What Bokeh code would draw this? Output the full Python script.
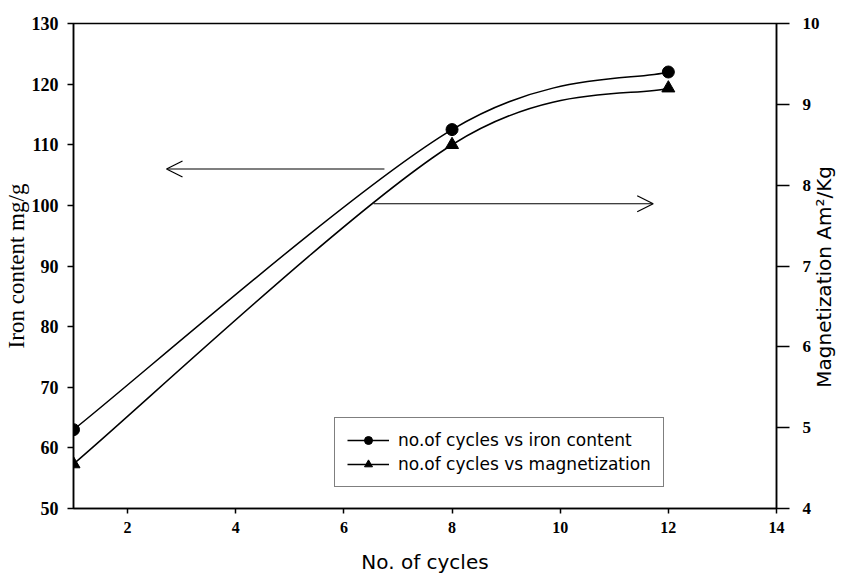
import math

from bokeh.embed import file_html
from bokeh.models import (Arrow, FixedTicker, Legend, LegendItem,
                          LinearAxis, OpenHead, Range1d)
from bokeh.plotting import figure
from bokeh.resources import INLINE

# Measured series
cycles = [1, 8, 12]
iron_content = [63.0, 112.5, 122.0]      # mg/g, left axis
magnetization = [4.55, 8.5, 9.2]         # Am^2/Kg, right axis

# Axis ticks
x_ticks = [2, 4, 6, 8, 10, 12, 14]
left_ticks = [50, 60, 70, 80, 90, 100, 110, 120, 130]
right_ticks = [4, 5, 6, 7, 8, 9, 10]

# Annotation arrows pointing to the axis each curve belongs to
left_arrow = dict(x_start=6.75, x_end=2.72, y=106.0)
right_arrow = dict(x_start=6.55, x_end=11.72, y=7.77)

SERIF = "Liberation Serif"
SANS = "DejaVu Sans"
MAG_TITLE = "Magnetization  Am\u00b2/Kg"


def smooth_segments(xs, ys):
    """Cubic Bezier pieces through the points (Catmull-Rom style smoothing)."""
    n = len(xs)
    seg = dict(x0=[], y0=[], x1=[], y1=[], cx0=[], cy0=[], cx1=[], cy1=[])
    for i in range(n - 1):
        a = max(i - 1, 0)
        b = min(i + 2, n - 1)
        seg["x0"].append(xs[i])
        seg["y0"].append(ys[i])
        seg["x1"].append(xs[i + 1])
        seg["y1"].append(ys[i + 1])
        seg["cx0"].append(xs[i] + (xs[i + 1] - xs[a]) / 6.0)
        seg["cy0"].append(ys[i] + (ys[i + 1] - ys[a]) / 6.0)
        seg["cx1"].append(xs[i + 1] - (xs[b] - xs[i]) / 6.0)
        seg["cy1"].append(ys[i + 1] - (ys[b] - ys[i]) / 6.0)
    return seg


p = figure(
    frame_width=703, frame_height=485,
    min_border_left=72, min_border_right=71,
    min_border_top=23, min_border_bottom=71,
    x_range=Range1d(1, 14), y_range=Range1d(50, 130),
    output_backend="svg", toolbar_location=None,
    background_fill_color="white", border_fill_color="white",
)
p.extra_y_ranges = {"right": Range1d(4, 10)}
p.grid.visible = False
p.outline_line_color = "black"
p.outline_line_width = 1.5

# Curves
iron_seg = smooth_segments(cycles, iron_content)
mag_seg = smooth_segments(cycles, magnetization)

iron_curve = p.bezier(line_color="black", line_width=1.5, **iron_seg)
iron_pts = p.scatter(cycles, iron_content, marker="circle", size=12,
                     fill_color="black", line_color="black")

mag_curve = p.bezier(line_color="black", line_width=1.5,
                     y_range_name="right", **mag_seg)
mag_pts = p.scatter(cycles, magnetization, marker="triangle", size=13,
                    fill_color="black", line_color="black",
                    y_range_name="right")

# Arrows
p.add_layout(Arrow(end=OpenHead(size=16, line_width=1.2, line_color="black"),
                   x_start=left_arrow["x_start"], y_start=left_arrow["y"],
                   x_end=left_arrow["x_end"], y_end=left_arrow["y"],
                   line_color="black", line_width=1.2))
p.add_layout(Arrow(end=OpenHead(size=16, line_width=1.2, line_color="black"),
                   x_start=right_arrow["x_start"], y_start=right_arrow["y"],
                   x_end=right_arrow["x_end"], y_end=right_arrow["y"],
                   line_color="black", line_width=1.2,
                   y_range_name="right"))

# Axes
def style_axis(ax, tick_out, label_size):
    ax.axis_line_color = "black"
    ax.axis_line_width = 1.5
    ax.major_tick_line_color = "black"
    ax.major_tick_line_width = 1.5
    ax.major_tick_out = tick_out
    ax.major_tick_in = 0
    ax.minor_tick_line_color = None
    ax.major_label_text_font = SERIF
    ax.major_label_text_font_size = label_size
    ax.major_label_text_font_style = "bold"
    ax.major_label_text_color = "black"
    ax.axis_label_text_font_style = "normal"
    ax.axis_label_text_color = "black"


xa = p.xaxis[0]
xa.ticker = FixedTicker(ticks=x_ticks)
style_axis(xa, 5, "16px")
xa.major_label_standoff = 8
xa.axis_label = "No. of cycles"
xa.axis_label_text_font = SANS
xa.axis_label_text_font_size = "20px"
xa.axis_label_standoff = 14

ya = p.yaxis[0]
ya.ticker = FixedTicker(ticks=left_ticks)
style_axis(ya, 6, "18px")
ya.major_label_standoff = 9
ya.axis_label = "Iron content mg/g"
ya.axis_label_text_font = SERIF
ya.axis_label_text_font_size = "23px"
ya.axis_label_standoff = 0

ra = LinearAxis(y_range_name="right", ticker=FixedTicker(ticks=right_ticks))
style_axis(ra, 13, "17px")
ra.major_label_standoff = 13
ra.axis_label_text_font = SANS
ra.axis_label_text_font_size = "20px"
ra.axis_label_standoff = 1
props = ra.properties()
if "axis_label_orientation" in props:
    # read bottom to top, like the left-hand title
    ra.axis_label_orientation = math.pi / 2
if "axis_label_align" in props:
    # anchor at the foot of the axis and lift the words to mid-height
    ra.axis_label_align = "start"
    ra.axis_label = "\u00a0" * 19 + MAG_TITLE
else:
    ra.axis_label = MAG_TITLE
p.add_layout(ra, "right")

# Legend
legend = Legend(
    items=[
        LegendItem(label="no.of cycles vs iron content",
                   renderers=[iron_curve, iron_pts]),
        LegendItem(label="no.of cycles vs magnetization",
                   renderers=[mag_curve, mag_pts]),
    ],
    location=(261, 21),
    border_line_color="black", border_line_width=1.2,
    background_fill_color="white", background_fill_alpha=1,
    label_text_font=SANS, label_text_font_size="17px",
    label_text_color="black",
    glyph_width=42, glyph_height=20, label_height=20,
    label_standoff=9, padding=12, spacing=4, margin=0,
)
p.add_layout(legend)

open("out.html", "w").write(file_html(p, INLINE))
